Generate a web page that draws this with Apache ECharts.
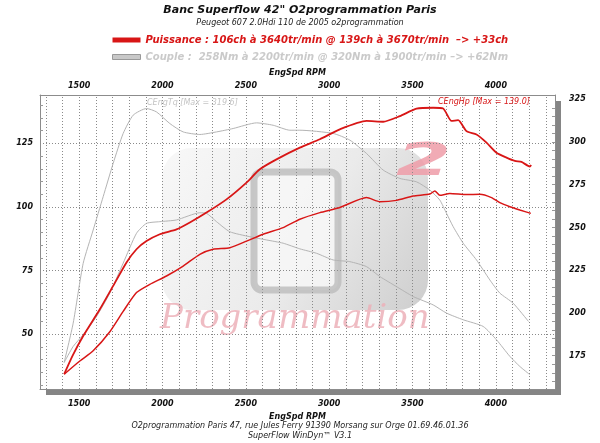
<!DOCTYPE html>
<html>
<head>
<meta charset="utf-8">
<script src="https://cdn.jsdelivr.net/npm/echarts@6/dist/echarts.min.js"></script>
<style>
  html, body { margin: 0; padding: 0; background: #fff; }
  #main { width: 600px; height: 443px; }
</style>
</head>
<body>
<div id="main"></div>
<script>
// puissance (ch) - courbe modifiee
var hpTunedRpm = [1410, 1460, 1524, 1624, 1704, 1784, 1844, 1904, 1984, 2084, 2164, 2264, 2384, 2504, 2584, 2684, 2824, 2944, 3064, 3224, 3324, 3424, 3524, 3624, 3684, 3734, 3774, 3824, 3884, 3944, 4004, 4064, 4114, 4154, 4204, 4212];
var hpTuned    = [34.3, 41.5, 49.3, 59.8, 69.0, 78.2, 83.4, 86.6, 89.3, 91.2, 93.9, 97.8, 103.0, 109.6, 114.8, 118.7, 123.3, 126.6, 130.5, 133.8, 133.5, 135.7, 138.6, 139.0, 138.7, 133.8, 134.1, 129.8, 128.5, 125.3, 121.3, 119.4, 118.1, 117.7, 115.9, 116.5];

// puissance (ch) - courbe origine
var hpStockRpm = [1410, 1504, 1584, 1684, 1764, 1844, 1924, 2024, 2124, 2224, 2304, 2404, 2504, 2604, 2724, 2824, 2944, 3064, 3224, 3304, 3404, 3504, 3604, 3634, 3664, 3724, 3824, 3904, 3974, 4024, 4084, 4144, 4210];
var hpStock    = [34.3, 39.5, 43.5, 51.0, 59.0, 66.4, 69.6, 72.9, 76.8, 81.4, 83.4, 84.0, 86.6, 89.3, 91.9, 95.2, 97.8, 99.8, 103.7, 102.1, 102.6, 104.3, 105.1, 106.3, 104.6, 105.3, 104.9, 105.0, 103.7, 101.7, 100.1, 98.8, 97.5];

// couple (Nm) - courbe modifiee
var tqTunedRpm = [1410, 1464, 1524, 1584, 1644, 1704, 1764, 1824, 1904, 1964, 2044, 2124, 2224, 2324, 2424, 2564, 2664, 2764, 2824, 3024, 3124, 3224, 3324, 3424, 3524, 3604, 3664, 3704, 3744, 3804, 3884, 3964, 4024, 4104, 4196];
var tqTuned    = [171, 194, 229, 248.5, 268, 287.5, 305, 315.7, 319.6, 317.6, 310.8, 305.9, 304.4, 305.9, 307.9, 311.2, 309.8, 306.9, 306.9, 305.0, 301.1, 293.3, 283.6, 278.7, 276.7, 271.9, 266.0, 258.3, 250.5, 240.8, 231.0, 219.3, 211.6, 205.7, 195.0];

// couple (Nm) - courbe origine
var tqStockRpm = [1410, 1464, 1524, 1604, 1684, 1764, 1844, 1904, 1984, 2084, 2224, 2264, 2324, 2404, 2524, 2624, 2724, 2824, 2924, 3024, 3124, 3224, 3304, 3404, 3504, 3624, 3704, 3804, 3924, 4004, 4084, 4144, 4204];
var tqStock    = [171, 180.4, 187.2, 197.9, 211.6, 229.1, 246.6, 252.4, 253.4, 254.4, 258.6, 258.3, 253.4, 247.5, 244.6, 242.7, 240.8, 237.5, 234.9, 231.0, 230.0, 227.1, 221.3, 215.4, 209.6, 204.7, 199.9, 196.0, 192.1, 184.3, 174.6, 168.7, 163.9];

// grille et graduations
var rpmGrid = [1300, 1400, 1500, 1600, 1700, 1800, 1900, 2000, 2100, 2200, 2300, 2400, 2500, 2600, 2700, 2800, 2900, 3000, 3100, 3200, 3300, 3400, 3500, 3600, 3700, 3800, 3900, 4000, 4100, 4200, 4300];
var hpGrid = [50, 75, 100, 125];
var hpMinor = [30, 35, 40, 45, 55, 60, 65, 70, 80, 85, 90, 95, 105, 110, 115, 120, 130, 135, 140];
var tqMinor = [160, 165, 170, 180, 185, 190, 195, 205, 210, 215, 220, 230, 235, 240, 245, 255, 260, 265, 270, 280, 285, 290, 295, 305, 310, 315, 320];

var powerLabel = 'Puissance : 106ch à 3640tr/min @ 139ch à 3670tr/min  –> +33ch';
var torqueLabel = 'Couple :  258Nm à 2200tr/min @ 320Nm à 1900tr/min –> +62Nm';

var rpmMin = 1265, rpmMax = 4355;

function zip(xs, ys) {
    var out = [];
    for (var i = 0; i < xs.length; i++) out.push([xs[i], ys[i]]);
    return out;
}

var font = 'DejaVu Sans';
var red = '#d81616';
var grey = '#b4b4b4';
var frame = { show: true, onZero: false, lineStyle: { color: '#8c8c8c', width: 1 } };

var gridLines = [];
rpmGrid.forEach(function (v) { gridLines.push({ xAxis: v }); });
hpGrid.forEach(function (v) { gridLines.push({ yAxis: v }); });
hpMinor.forEach(function (v) { gridLines.push([{ coord: [rpmMin, v], lineStyle: { type: 'solid', color: '#999' } }, { coord: [rpmMin + 18, v] }]); });

var rightTicks = [];
tqMinor.concat([175, 200, 225, 250, 275, 300]).forEach(function (v) {
    rightTicks.push([{ coord: [rpmMax - 18, v] }, { coord: [rpmMax, v] }]);
});

function every(step) {
    return function (v) { return Math.abs(v % step) < 1e-6 ? String(Math.round(v)) : ''; };
}

var labelStyle = { color: '#111', fontFamily: font, fontSize: 8, fontWeight: 'bold', fontStyle: 'italic' };
var nameStyle = { color: '#111', fontFamily: font, fontSize: 8, fontWeight: 'bold', fontStyle: 'italic' };

var myChart = echarts.init(document.getElementById('main'));

var option = {
    animation: false,
    title: [{
        text: 'Banc Superflow 42" O2programmation Paris',
        subtext: 'Peugeot 607 2.0Hdi 110 de 2005 o2programmation',
        left: 'center',
        top: 0,
        itemGap: 3,
        textStyle: { fontFamily: font, fontSize: 11, fontWeight: 'bold', fontStyle: 'italic', color: '#111' },
        subtextStyle: { fontFamily: font, fontSize: 8, fontStyle: 'italic', color: '#222' }
    }, {
        text: 'O2programmation Paris 47, rue Jules Ferry 91390 Morsang sur Orge 01.69.46.01.36\nSuperFlow WinDyn™ V3.1',
        left: 'center',
        top: 421,
        padding: 0,
        textStyle: { fontFamily: font, fontSize: 8, fontWeight: 'normal', fontStyle: 'italic', color: '#222', lineHeight: 10 }
    }],
    legend: {
        orient: 'vertical',
        left: 107,
        top: 30,
        itemGap: 7,
        itemWidth: 28,
        itemHeight: 5,
        icon: 'rect',
        selectedMode: false,
        textStyle: { fontFamily: font, fontSize: 10, fontWeight: 'bold', fontStyle: 'italic' },
        data: [
            { name: powerLabel, itemStyle: { color: red }, textStyle: { color: red } },
            { name: torqueLabel, itemStyle: { color: '#c8c8c8', borderColor: '#999', borderWidth: 1 }, textStyle: { color: '#cacaca' } }
        ]
    },
    grid: {
        left: 40, top: 95, width: 515, height: 294,
        show: true,
        backgroundColor: '#fff',
        borderWidth: 0,
        shadowColor: '#858585',
        shadowOffsetX: 6,
        shadowOffsetY: 6,
        shadowBlur: 0
    },
    xAxis: [{
        type: 'value', position: 'bottom',
        min: rpmMin, max: rpmMax, interval: 5,
        name: 'EngSpd RPM', nameLocation: 'middle', nameGap: 20, nameTextStyle: nameStyle,
        axisLine: frame, axisTick: { show: false }, splitLine: { show: false },
        axisLabel: Object.assign({ formatter: every(500), margin: 11 }, labelStyle)
    }, {
        type: 'value', position: 'top',
        min: rpmMin, max: rpmMax, interval: 5,
        name: 'EngSpd RPM', nameLocation: 'middle', nameGap: 15, nameTextStyle: nameStyle,
        axisLine: frame, axisTick: { show: false }, splitLine: { show: false },
        axisLabel: Object.assign({ formatter: every(500), margin: 5 }, labelStyle)
    }],
    yAxis: [{
        type: 'value', position: 'left',
        min: 28.5, max: 144, interval: 0.5,
        axisLine: frame, axisTick: { show: false }, splitLine: { show: false },
        axisLabel: Object.assign({ formatter: every(25), margin: 7 }, labelStyle)
    }, {
        type: 'value', position: 'right',
        min: 155.5, max: 327.5, interval: 0.5,
        axisLine: frame, axisTick: { show: false }, splitLine: { show: false },
        axisLabel: Object.assign({ formatter: every(25), margin: 14 }, labelStyle)
    }],
    graphic: [
        {
            type: 'rect', z: 1, silent: true,
            shape: { x: 162, y: 148, width: 266, height: 162, r: 30 },
            style: {
                fill: new echarts.graphic.LinearGradient(0, 0, 1, 1, [
                    { offset: 0, color: '#f5f5f5' },
                    { offset: 0.55, color: '#e2e2e2' },
                    { offset: 1, color: '#b8b8b8' }
                ]),
                opacity: 0.7
            }
        },
        {
            type: 'rect', z: 1, silent: true,
            shape: { x: 254, y: 172, width: 84, height: 118, r: 8 },
            style: { fill: '#f7f7f7', stroke: '#bcbcbc', lineWidth: 7, opacity: 0.8 }
        },
        {
            type: 'text', z: 1, silent: true, x: 396, y: 142, scaleX: 1.8,
            style: { text: '2', fill: '#ee9ca8', font: 'italic bold 44px "DejaVu Sans"', opacity: 0.85 }
        },
        {
            type: 'text', z: 1, silent: true, x: 160, y: 302,
            style: { text: 'Programmation', fill: '#ecb0b8', font: 'italic 34px "DejaVu Serif"', opacity: 0.85 }
        },
        {
            type: 'text', z: 10, silent: true, left: 147, top: 99,
            style: { text: 'CEngTq [Max = 319.6]', fill: '#c4c4c4', font: 'italic 8px "DejaVu Sans"' }
        },
        {
            type: 'text', z: 10, silent: true, left: 438, top: 98,
            style: { text: 'CEngHp [Max = 139.0]', fill: red, font: 'italic 8px "DejaVu Sans"' }
        }
    ],
    series: [{
        name: 'Couple origine',
        type: 'line', xAxisIndex: 0, yAxisIndex: 1, z: 3,
        showSymbol: false, smooth: 0.2,
        lineStyle: { color: grey, width: 1 },
        itemStyle: { color: grey },
        data: zip(tqStockRpm, tqStock),
        markLine: {
            silent: true, symbol: 'none', z: 2,
            label: { show: false },
            lineStyle: { color: '#999', width: 1, type: 'solid' },
            data: rightTicks
        }
    }, {
        name: torqueLabel,
        type: 'line', xAxisIndex: 0, yAxisIndex: 1, z: 3,
        showSymbol: false, smooth: 0.2,
        lineStyle: { color: grey, width: 1 },
        itemStyle: { color: grey },
        data: zip(tqTunedRpm, tqTuned)
    }, {
        name: 'Puissance origine',
        type: 'line', xAxisIndex: 0, yAxisIndex: 0, z: 4,
        showSymbol: false, smooth: 0.2,
        lineStyle: { color: red, width: 1.5 },
        itemStyle: { color: red },
        data: zip(hpStockRpm, hpStock),
        markLine: {
            silent: true, symbol: 'none', z: 2,
            label: { show: false },
            lineStyle: { color: '#8a8a8a', width: 1, type: [1, 2] },
            data: gridLines
        }
    }, {
        name: powerLabel,
        type: 'line', xAxisIndex: 0, yAxisIndex: 0, z: 4,
        showSymbol: false, smooth: 0.2,
        lineStyle: { color: red, width: 1.8 },
        itemStyle: { color: red },
        data: zip(hpTunedRpm, hpTuned)
    }]
};
myChart.setOption(option);
</script>
</body>
</html>
